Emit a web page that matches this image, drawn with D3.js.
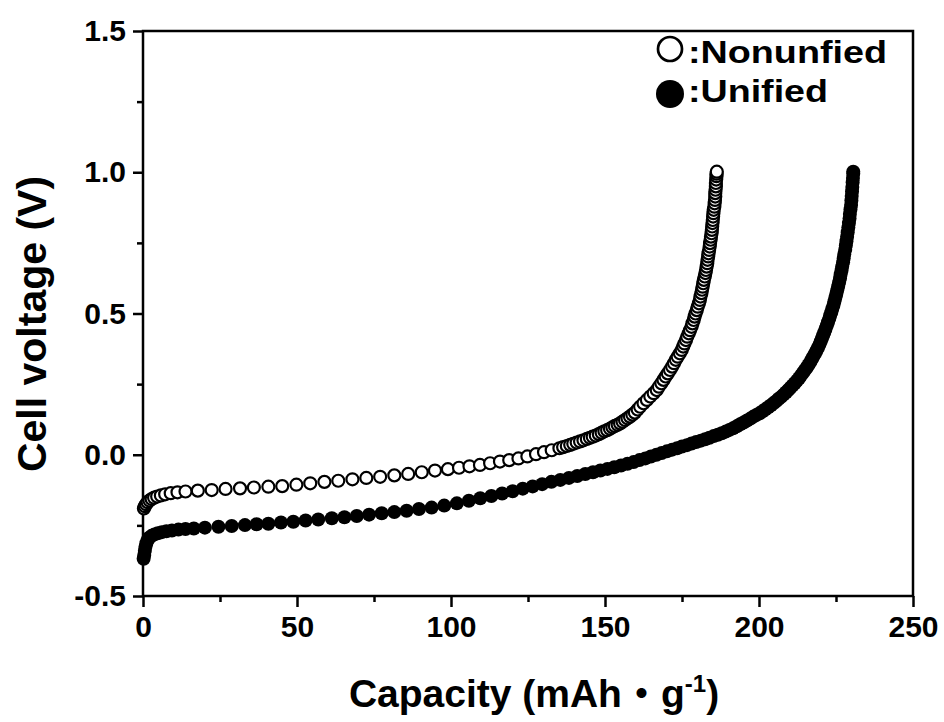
<!DOCTYPE html>
<html>
<head>
<meta charset="utf-8">
<script src="https://cdn.jsdelivr.net/npm/d3@7"></script>
<style>
  body { margin: 0; background: #fff; }
  text { font-family: "Liberation Sans", Arial, sans-serif; font-weight: bold; fill: #000; }
</style>
</head>
<body>
<div id="chart"></div>
<script>

// Nonunfied (open circles): capacity (mAh/g) and cell voltage (V)
var nonunifiedCap = [0.3,0.6,1.0,1.5,2.1,2.8,3.6,4.6,5.8,7.2,9.0,11.2,13.8,17.8,22.3,26.8,31.5,36.0,40.7,45.2,
	49.8,54.3,58.9,63.4,68.0,72.5,77.0,81.6,86.1,90.5,94.8,99.0,102.6,106.0,109.4,112.7,115.9,118.9,121.9,124.8,
	127.6,130.2,132.7,135.2,136.4,137.6,138.7,139.7,140.8,141.9,143.0,144.1,145.1,146.0,147.0,148.0,148.9,149.8,150.7,151.6,
	152.4,153.2,154.1,154.9,155.7,156.5,157.3,158.1,158.9,159.7,160.6,161.4,162.5,163.6,164.7,165.8,166.8,167.5,168.3,169.0,
	169.7,170.4,171.1,171.8,172.4,173.0,173.6,174.3,174.9,175.4,175.8,176.3,176.7,177.2,177.6,178.1,178.4,178.8,179.1,179.4,
	179.8,180.1,180.5,180.8,181.0,181.3,181.5,181.7,181.9,182.1,182.4,182.6,182.8,183.0,183.2,183.3,183.5,183.6,183.8,184.0,
	184.1,184.3,184.4,184.6,184.7,184.8,184.9,185.0,185.1,185.2,185.3,185.5,185.6,185.7,185.8,185.8,185.9,186.0,186.0,186.1,
	186.2,186.2,186.3]
var nonunifiedV = [-0.190,-0.182,-0.175,-0.168,-0.162,-0.157,-0.152,-0.148,-0.144,-0.140,-0.136,-0.133,-0.130,-0.127,-0.125,-0.121,-0.119,-0.116,-0.113,-0.111,
	-0.106,-0.101,-0.096,-0.092,-0.087,-0.082,-0.078,-0.073,-0.068,-0.062,-0.056,-0.051,-0.046,-0.041,-0.036,-0.030,-0.024,-0.019,-0.013,-0.006,
	0.002,0.009,0.016,0.023,0.027,0.031,0.035,0.039,0.043,0.047,0.051,0.056,0.060,0.064,0.068,0.073,0.078,0.083,0.087,0.092,
	0.097,0.102,0.106,0.111,0.117,0.123,0.129,0.135,0.142,0.149,0.160,0.170,0.182,0.194,0.206,0.218,0.229,0.241,0.253,0.265,
	0.277,0.288,0.300,0.312,0.324,0.336,0.347,0.359,0.371,0.383,0.394,0.406,0.418,0.430,0.441,0.453,0.465,0.477,0.489,0.500,
	0.512,0.524,0.536,0.548,0.560,0.572,0.584,0.595,0.607,0.619,0.631,0.643,0.654,0.666,0.678,0.690,0.702,0.713,0.725,0.737,
	0.749,0.761,0.772,0.784,0.796,0.808,0.820,0.831,0.843,0.855,0.867,0.878,0.890,0.902,0.914,0.926,0.938,0.950,0.962,0.974,
	0.986,0.995,1.002]

// Unified (filled circles)
var unifiedCap = [0.2,0.4,0.6,0.8,1.1,1.5,2.0,2.8,3.7,4.8,6.1,7.6,9.4,11.5,13.8,16.5,20.1,24.5,28.8,33.1,
	36.9,40.7,44.8,48.8,52.8,56.9,61.3,65.4,69.4,73.4,77.5,81.6,85.6,89.6,93.7,97.8,101.9,105.8,109.5,113.1,
	116.6,120.0,123.3,126.5,129.6,132.6,135.5,138.3,141.0,143.6,146.1,148.5,150.8,153.0,155.2,157.3,159.3,161.2,163.1,164.9,
	166.7,168.4,170.1,171.8,173.4,175.0,176.6,178.1,179.6,181.1,182.5,183.9,185.3,186.6,187.9,189.2,190.4,191.6,192.8,193.9,
	195.0,196.1,197.2,198.2,199.2,200.2,201.2,202.1,203.0,203.9,204.8,205.6,206.4,207.2,208.0,208.8,209.5,210.2,210.9,211.6,
	212.3,213.0,213.6,214.2,214.8,215.4,216.0,216.6,217.1,217.6,218.1,218.6,219.1,219.6,220.0,220.4,220.8,221.2,221.6,222.0,
	222.4,222.8,223.1,223.5,223.8,224.2,224.5,224.8,225.1,225.4,225.7,226.0,226.3,226.5,226.8,227.0,227.3,227.5,227.7,228.0,
	228.2,228.4,228.6,228.8,229.0,229.2,229.4,229.5,229.7,229.9,230.0,230.1,230.2,230.3,230.4,230.5,230.6,230.6]
var unifiedV = [-0.368,-0.355,-0.340,-0.326,-0.313,-0.302,-0.294,-0.287,-0.282,-0.278,-0.274,-0.271,-0.268,-0.265,-0.263,-0.261,-0.258,-0.255,-0.252,-0.249,
	-0.246,-0.244,-0.240,-0.237,-0.233,-0.229,-0.225,-0.221,-0.217,-0.212,-0.207,-0.203,-0.198,-0.192,-0.187,-0.180,-0.172,-0.163,-0.154,-0.146,
	-0.137,-0.129,-0.120,-0.112,-0.104,-0.096,-0.089,-0.082,-0.075,-0.068,-0.062,-0.056,-0.050,-0.044,-0.038,-0.032,-0.026,-0.019,-0.013,-0.006,
	0.000,0.006,0.012,0.018,0.023,0.029,0.034,0.040,0.045,0.050,0.055,0.060,0.066,0.071,0.076,0.082,0.088,0.094,0.101,0.108,
	0.114,0.121,0.128,0.135,0.141,0.147,0.154,0.161,0.168,0.175,0.183,0.190,0.198,0.205,0.213,0.221,0.229,0.237,0.245,0.253,
	0.262,0.271,0.280,0.289,0.298,0.307,0.317,0.327,0.337,0.347,0.357,0.367,0.378,0.389,0.400,0.411,0.422,0.433,0.445,0.457,
	0.469,0.481,0.493,0.505,0.517,0.530,0.543,0.556,0.569,0.582,0.596,0.610,0.624,0.638,0.652,0.666,0.681,0.696,0.711,0.726,
	0.741,0.756,0.772,0.788,0.804,0.820,0.836,0.852,0.868,0.884,0.900,0.916,0.932,0.948,0.964,0.980,0.995,1.002]

var xMajor = [0, 50, 100, 150, 200, 250]
var xMinor = [25, 75, 125, 175, 225]
var yMajor = [-0.5, 0.0, 0.5, 1.0, 1.5]
var yMinor = [-0.25, 0.25, 0.75, 1.25]
var legendLabels = [":Nonunfied", ":Unified"]

var width = 944, height = 722
var margin = {top: 31, right: 31, bottom: 126, left: 143}

var svg = d3.select("#chart").append("svg")
	.attr("width", width)
	.attr("height", height)

svg.append("rect").attr("width", width).attr("height", height).attr("fill", "#fff")

var x = d3.scaleLinear().domain([0, 250]).range([margin.left, width - margin.right])
var y = d3.scaleLinear().domain([-0.5, 1.5]).range([height - margin.bottom, margin.top])

// plain hyphen for negatives, like the original
var fmtY = function(d) { return d3.format(".1f")(d).replace("\u2212", "-") }

// minor ticks first
svg.append("g")
	.attr("class", "x minor")
	.attr("transform", "translate(0," + y(-0.5) + ")")
	.call(d3.axisBottom(x).tickValues(xMinor).tickSize(6).tickFormat(""))

svg.append("g")
	.attr("class", "y minor")
	.attr("transform", "translate(" + x(0) + ",0)")
	.call(d3.axisLeft(y).tickValues(yMinor).tickSize(6).tickFormat(""))

svg.append("g")
	.attr("class", "x major")
	.attr("transform", "translate(0," + y(-0.5) + ")")
	.call(d3.axisBottom(x).tickValues(xMajor).tickSize(11).tickPadding(9).tickFormat(d3.format("d")))

svg.append("g")
	.attr("class", "y major")
	.attr("transform", "translate(" + x(0) + ",0)")
	.call(d3.axisLeft(y).tickValues(yMajor).tickSize(10).tickPadding(7).tickFormat(fmtY))

svg.selectAll(".domain").remove()
svg.selectAll(".tick line").attr("stroke", "#000").attr("stroke-width", 2.5)
svg.selectAll(".tick text").style("font-size", "30px").attr("fill", "#000")

// frame
svg.append("rect")
	.attr("x", x(0))
	.attr("y", y(1.5))
	.attr("width", x(250) - x(0))
	.attr("height", y(-0.5) - y(1.5))
	.attr("fill", "none")
	.attr("stroke", "#000")
	.attr("stroke-width", 2.5)

// data
var plot = svg.append("g")

plot.selectAll(".unified")
	.data(d3.range(unifiedCap.length))
	.enter().append("circle")
	.attr("class", "unified")
	.attr("cx", function(i) { return x(unifiedCap[i]) })
	.attr("cy", function(i) { return y(unifiedV[i]) })
	.attr("r", 7)
	.attr("fill", "#000")

plot.selectAll(".nonunified")
	.data(d3.range(nonunifiedCap.length))
	.enter().append("circle")
	.attr("class", "nonunified")
	.attr("cx", function(i) { return x(nonunifiedCap[i]) })
	.attr("cy", function(i) { return y(nonunifiedV[i]) })
	.attr("r", 6)
	.attr("fill", "#fff")
	.attr("stroke", "#000")
	.attr("stroke-width", 2.2)

// legend
var legend = svg.append("g")

legend.append("circle")
	.attr("cx", 670).attr("cy", 49).attr("r", 12)
	.attr("fill", "#fff").attr("stroke", "#000").attr("stroke-width", 2.7)

legend.append("circle")
	.attr("cx", 670).attr("cy", 94).attr("r", 14)
	.attr("fill", "#000")

legend.selectAll(".legtext")
	.data(legendLabels)
	.enter().append("text")
	.attr("class", "legtext")
	.attr("x", 688)
	.attr("y", function(d, i) { return 63 + i * 39 })
	.attr("textLength", function(d, i) { return i == 0 ? 199 : 140 })
	.attr("lengthAdjust", "spacingAndGlyphs")
	.style("font-size", "31px")
	.text(function(d) { return d })

// axis titles
svg.append("text")
	.attr("transform", "translate(46," + 324 + ") rotate(-90)")
	.attr("text-anchor", "middle")
	.style("font-size", "41px")
	.text("Cell voltage (V)")

var xt = svg.append("text")
	.attr("x", 534)
	.attr("y", 707)
	.attr("text-anchor", "middle")
	.style("font-size", "39px")

xt.append("tspan").text("Capacity (mAh")
xt.append("tspan").style("font-family", "'Noto Sans CJK SC'").text("・")
xt.append("tspan").text("g")
xt.append("tspan").attr("dy", -15).style("font-size", "24px").text("-1")
xt.append("tspan").attr("dy", 15).text(")")

</script>
</body>
</html>
